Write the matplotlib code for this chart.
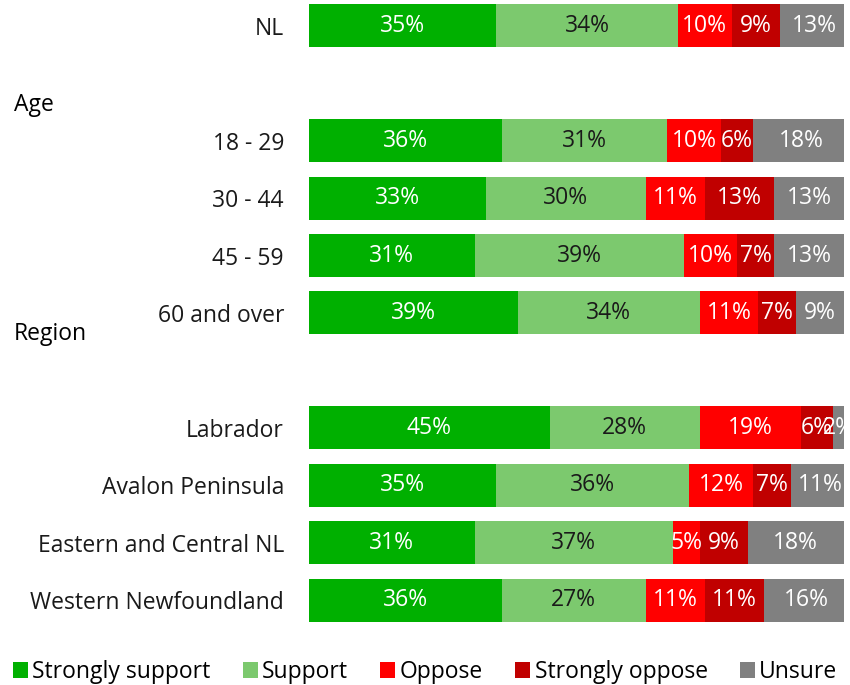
import numpy as np
import matplotlib
matplotlib.use("Agg")
import matplotlib.pyplot as plt

plt.rcParams['font.family'] = ['Open Sans', 'DejaVu Sans']

# rows top to bottom; empty strings are spacer rows
categories = ["NL", "", "18 - 29", "30 - 44", "45 - 59", "60 and over", "",
              "Labrador", "Avalon Peninsula", "Eastern and Central NL", "Western Newfoundland"]
strongly_support = [35, 0, 36, 33, 31, 39, 0, 45, 35, 31, 36]
support          = [34, 0, 31, 30, 39, 34, 0, 28, 36, 37, 27]
oppose           = [10, 0, 10, 11, 10, 11, 0, 19, 12, 5, 11]
strongly_oppose  = [9, 0, 6, 13, 7, 7, 0, 6, 7, 9, 11]
unsure           = [13, 0, 18, 13, 13, 9, 0, 2, 11, 18, 16]

series_names = ["Strongly support", "Support", "Oppose", "Strongly oppose", "Unsure"]
series_colors = ["#00B000", "#7CC96E", "#FF0000", "#C00000", "#808080"]
text_colors = ["white", "#1a1a1a", "white", "white", "white"]

group_labels = ["Age", "Region"]
fs = 16.5

fig = plt.figure(figsize=(8.5, 6.85), dpi=100)
ax = fig.add_axes([309/850, 1 - 634.5/685, 535/850, 634.5/685])

y = np.arange(len(categories))
left = np.zeros(len(categories))
all_series = [strongly_support, support, oppose, strongly_oppose, unsure]
for vals, name, col, tcol in zip(all_series, series_names, series_colors, text_colors):
    vals = np.array(vals, dtype=float)
    bars = ax.barh(y, vals, left=left, height=0.75, color=col, label=name)
    for b, v in zip(bars, vals):
        if v > 0:
            ax.text(b.get_x() + b.get_width() / 2, b.get_y() + b.get_height() / 2,
                    f"{int(v)}%", ha="center", va="center", color=tcol, fontsize=fs)
    left += vals

ax.set_xlim(0, 100)
ax.set_ylim(10.6, -0.45)
ax.set_yticks(y)
ax.set_yticklabels(categories, fontsize=fs, color="#1a1a1a")
ax.tick_params(axis="y", length=0, pad=18)
ax.set_xticks([])
for s in ax.spines.values():
    s.set_visible(False)

# group headings on the left
fig.text(14/850, 1 - 105/685, group_labels[0], fontsize=fs, ha="left", va="center", color="black")
fig.text(14/850, 1 - 334/685, group_labels[1], fontsize=fs, ha="left", va="center", color="black")

fig.legend(loc="center left", bbox_to_anchor=(13/850, 1 - 672/685), ncol=5, frameon=False,
           fontsize=fs, handlelength=0.65, handleheight=0.65, handletextpad=0.2,
           columnspacing=1.4, borderaxespad=0, borderpad=0.0)

fig.savefig("out.png", dpi=100)
